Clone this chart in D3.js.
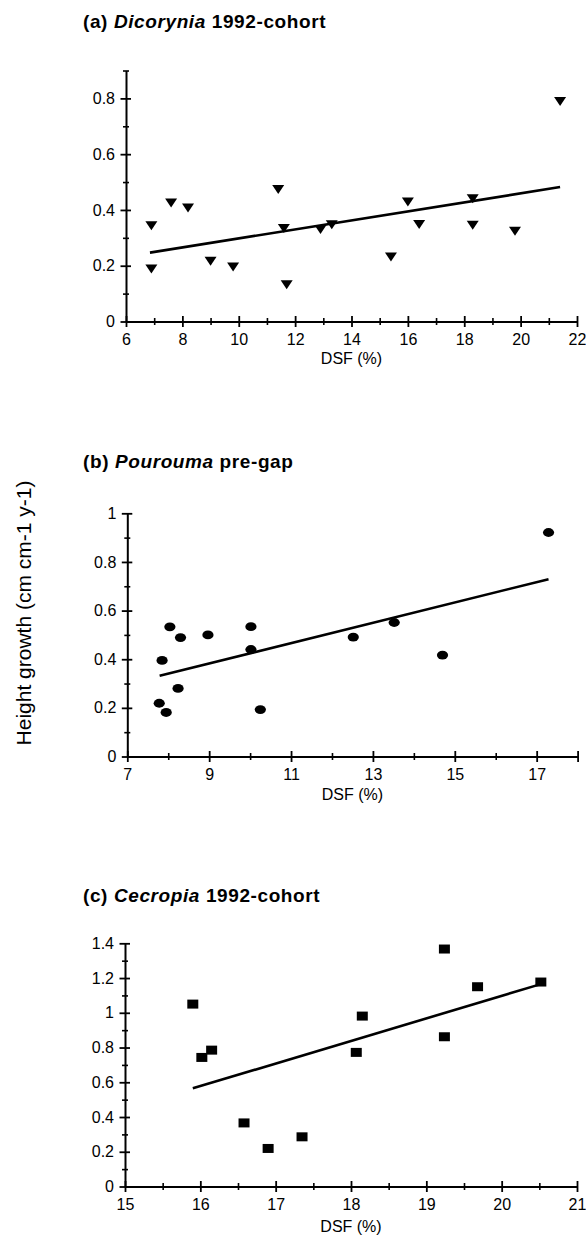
<!DOCTYPE html>
<html lang="en">
<head>
<meta charset="UTF-8">
<title>height growth vs DSF</title>
<script src="https://cdn.jsdelivr.net/npm/d3@7"></script>
<style>
  body { margin: 0; background: #fff; }
  text { font-family: "Liberation Sans", Arial, sans-serif; fill: #000; }
</style>
</head>
<body>
<script>
// (a) Dicorynia 1992-cohort
var dsfA    = [6.9, 6.9, 7.6, 8.2, 9.0, 9.8, 11.4, 11.6, 11.7, 12.9, 13.3, 15.4, 16.0, 16.4, 18.3, 18.3, 19.8, 21.4];
var growthA = [0.345, 0.19, 0.427, 0.409, 0.218, 0.197, 0.475, 0.335, 0.134, 0.332, 0.349, 0.233, 0.43, 0.35, 0.442, 0.347, 0.325, 0.791];
var fitA    = [[6.85, 0.247], [21.4, 0.482]];

// (b) Pourouma pre-gap
var dsfB    = [7.78, 7.95, 7.85, 8.04, 8.3, 8.24, 8.97, 10.02, 10.02, 10.25, 12.52, 13.52, 14.7, 17.29];
var growthB = [0.219, 0.181, 0.395, 0.533, 0.489, 0.28, 0.5, 0.534, 0.44, 0.193, 0.491, 0.551, 0.417, 0.921];
var fitB    = [[7.79, 0.332], [17.29, 0.729]];

// (c) Cecropia 1992-cohort
var dsfC    = [15.9, 16.02, 16.15, 16.58, 16.9, 17.35, 18.07, 18.15, 19.24, 19.24, 19.68, 20.52];
var growthC = [1.05, 0.743, 0.785, 0.366, 0.219, 0.286, 0.772, 0.981, 1.367, 0.862, 1.15, 1.177];
var fitC    = [[15.9, 0.565], [20.52, 1.165]];

var svg = d3.select("body").append("svg")
    .attr("width", 586)
    .attr("height", 1242);

// one panel = title + axes + points + fitted line
function panel(o) {
    var g = svg.append("g");
    var x = d3.scaleLinear().domain(o.xdom).range([o.left, o.right]);
    var y = d3.scaleLinear().domain(o.ydom).range([o.bottom, o.top]);

    var t = g.append("text")
        .attr("x", 83).attr("y", o.titleY)
        .style("font-size", "19px").style("font-weight", "bold")
        .style("letter-spacing", "0.6px");
    t.append("tspan").text(o.title[0] + " ");
    t.append("tspan").style("font-style", "italic").text(o.title[1]);
    t.append("tspan").text(" " + o.title[2]);

    // minor ticks
    g.append("g").attr("transform", "translate(0," + o.bottom + ")")
        .call(d3.axisBottom(x).tickValues(o.xminor).tickFormat("").tickSizeOuter(0))
        .call(function(s) {
            s.select(".domain").remove();
            s.selectAll(".tick line").attr("y1", -3.5).attr("y2", 3.5).attr("stroke-width", 1.6);
        });
    g.append("g").attr("transform", "translate(" + o.left + ",0)")
        .call(d3.axisLeft(y).tickValues(o.yminor).tickFormat("").tickSizeOuter(0))
        .call(function(s) {
            s.select(".domain").remove();
            s.selectAll(".tick line").attr("x1", -3).attr("x2", 3).attr("stroke-width", 1.6);
        });

    // major ticks + labels
    var xa = g.append("g").attr("transform", "translate(0," + o.bottom + ")")
        .call(d3.axisBottom(x).tickValues(o.xticks).tickFormat(d3.format("d")).tickSizeOuter(0).tickPadding(8));
    xa.select(".domain").attr("stroke-width", 2);
    xa.selectAll(".tick line").attr("y1", -5.5).attr("y2", 5.5).attr("stroke-width", 1.8);
    xa.selectAll(".tick text").style("font-size", "16px").attr("y", 12);

    var ya = g.append("g").attr("transform", "translate(" + o.left + ",0)")
        .call(d3.axisLeft(y).tickValues(o.yticks).tickFormat(d3.format("")).tickSizeOuter(0).tickPadding(9));
    ya.select(".domain").attr("stroke-width", 2);
    ya.selectAll(".tick line").attr("x1", -5.5).attr("x2", 5).attr("stroke-width", 1.8);
    ya.selectAll(".tick text").style("font-size", "16px").attr("x", -11);
    ya.selectAll(".tick text").filter(function(d) { return o.ylabelHide.indexOf(d) >= 0; }).remove();
    xa.selectAll(".tick text").filter(function(d) { return o.xlabelHide.indexOf(d) >= 0; }).remove();

    g.append("text")
        .attr("x", (x(o.xdom[0]) + x(o.xdom[1])) / 2)
        .attr("y", o.bottom + o.dsfDy)
        .attr("text-anchor", "middle")
        .style("font-size", "16px")
        .text("DSF (%)");

    g.append("path")
        .datum(o.fit)
        .attr("fill", "none").attr("stroke", "#000").attr("stroke-width", 2.6)
        .attr("d", d3.line().x(function(d) { return x(d[0]); }).y(function(d) { return y(d[1]); }));

    var pts = o.xs.map(function(v, i) { return [v, o.ys[i]]; });
    g.append("g").selectAll("path").data(pts).join("path")
        .attr("fill", "#000")
        .attr("transform", function(d) { return "translate(" + x(d[0]) + "," + y(d[1]) + ")"; })
        .attr("d", o.marker);
}

var tri = "M-6,-4L6,-4L0,5Z";
var ell = "M-5.6,0A5.6,4.4 0 1,0 5.6,0A5.6,4.4 0 1,0 -5.6,0Z";
var sq  = "M-5.5,-4.5H5.5V4.5H-5.5Z";

panel({
    title: ["(a)", "Dicorynia", "1992-cohort"], titleY: 28,
    xs: dsfA, ys: growthA, fit: fitA, marker: tri,
    xdom: [6, 22], ydom: [0, 0.9],
    left: 126, right: 577, top: 70.5, bottom: 321.5,
    xticks: d3.range(6, 23, 2), xminor: d3.range(7, 22, 2), xlabelHide: [],
    yticks: [0, 0.2, 0.4, 0.6, 0.8], yminor: [0.1, 0.3, 0.5, 0.7, 0.9], ylabelHide: [],
    dsfDy: 42
});

panel({
    title: ["(b)", "Pourouma", "pre-gap"], titleY: 468,
    xs: dsfB, ys: growthB, fit: fitB, marker: ell,
    xdom: [7, 18], ydom: [0, 1],
    left: 127.3, right: 577.6, top: 513.3, bottom: 756.5,
    xticks: [7, 9, 11, 13, 15, 17, 18], xminor: [8, 10, 12, 14, 16], xlabelHide: [18],
    yticks: [0, 0.2, 0.4, 0.6, 0.8, 1], yminor: [0.1, 0.3, 0.5, 0.7, 0.9], ylabelHide: [],
    dsfDy: 43
});

panel({
    title: ["(c)", "Cecropia", "1992-cohort"], titleY: 902,
    xs: dsfC, ys: growthC, fit: fitC, marker: sq,
    xdom: [15, 21], ydom: [0, 1.4],
    left: 125, right: 577, top: 943.3, bottom: 1186.5,
    xticks: d3.range(15, 22, 1), xminor: [15.5, 16.5, 17.5, 18.5, 19.5, 20.5], xlabelHide: [],
    yticks: [0, 0.2, 0.4, 0.6, 0.8, 1, 1.2, 1.4], yminor: [0.1, 0.3, 0.5, 0.7, 0.9, 1.1, 1.3], ylabelHide: [],
    dsfDy: 45
});

svg.append("text")
    .attr("transform", "translate(31,613) rotate(-90)")
    .attr("text-anchor", "middle")
    .style("font-size", "21px")
    .text("Height growth (cm cm-1 y-1)");
</script>
</body>
</html>
